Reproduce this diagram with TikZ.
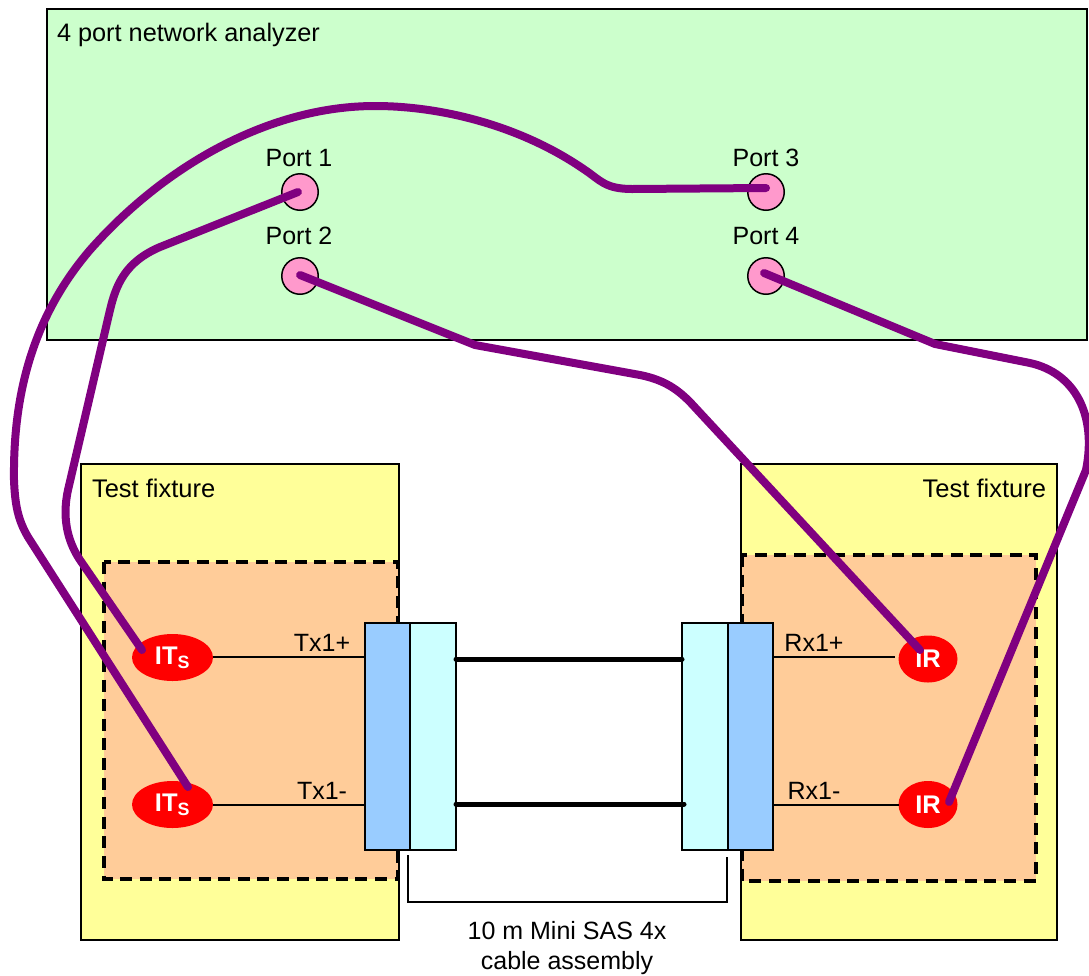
\documentclass[tikz,border=0pt]{standalone}
\usepackage{fontspec}
\setmainfont{Liberation Sans}
\usetikzlibrary{shapes.geometric}
\definecolor{nagreen}{HTML}{CCFFCC}
\definecolor{fixyellow}{HTML}{FFFF99}
\definecolor{dutorange}{HTML}{FFCC99}
\definecolor{connblue}{HTML}{99CCFF}
\definecolor{conncyan}{HTML}{CCFFFF}
\definecolor{portpink}{HTML}{FF99CC}
\definecolor{wirepurple}{HTML}{800080}
\tikzset{
  x=1pt,y=-1pt,
  every node/.style={font=\fontsize{25}{29}\selectfont,inner sep=0pt,outer sep=0pt},
  panel/.style={draw=black,line width=1.5pt,rectangle,anchor=north west},
  dutbox/.style={draw=black,fill=dutorange,line width=3.2pt,dash pattern=on 12pt off 7.6pt},
  portc/.style={circle,draw=black,fill=portpink,line width=1.5pt,minimum size=36.5pt},
  srcnode/.style={ellipse,fill=red,text=white,minimum width=81pt,minimum height=47pt,font=\fontsize{25.5}{29}\selectfont\bfseries},
  rcvnode/.style={ellipse,fill=red,text=white,minimum width=59pt,minimum height=47pt,font=\fontsize{25.5}{29}\selectfont\bfseries},
  wire/.style={draw=wirepurple,line width=8pt,line cap=round,line join=round},
  thinl/.style={draw=black,line width=1.4pt},
  cable/.style={draw=black,line width=5pt,line cap=round},
  conn/.style={draw=black,line width=1.5pt,anchor=north west,minimum height=227pt}
}
\begin{document}
\begin{tikzpicture}
\useasboundingbox (0,0) rectangle (1089,975);
% panels
\node[panel,fill=nagreen,minimum width=1040pt,minimum height=331pt] (na) at (47,9) {};
\node[anchor=west,font=\fontsize{25.3}{29}\selectfont] (natext) at (57,35) {4 port network analyzer};
\node[panel,fill=fixyellow,minimum width=318pt,minimum height=476pt] (fixl) at (81,464) {};
\node[panel,fill=fixyellow,minimum width=316pt,minimum height=476pt] (fixr) at (741,464) {};
\node[anchor=west,font=\fontsize{25.5}{29}\selectfont] (fixltext) at (92,488.5) {Test fixture};
\node[anchor=east,font=\fontsize{25.5}{29}\selectfont] (fixrtext) at (1046,488.5) {Test fixture};
\draw[dutbox] (104,562) rectangle (398,879);
\draw[dutbox] (742,555) rectangle (1036,881);
% ports
\node[portc] (p1) at (300,192) {};
\node[portc] (p2) at (300,276) {};
\node[portc] (p3) at (766,192) {};
\node[portc] (p4) at (766,276) {};
\node (p1t) at (299,158) {Port 1};
\node (p2t) at (299,236) {Port 2};
\node (p3t) at (766,158) {Port 3};
\node (p4t) at (766,236) {Port 4};
% connectors
\node[conn,fill=connblue,minimum width=45pt] (cl1) at (365,623) {};
\node[conn,fill=conncyan,minimum width=46pt] (cl2) at (410,623) {};
\node[conn,fill=conncyan,minimum width=46pt] (cr1) at (682,623) {};
\node[conn,fill=connblue,minimum width=45pt] (cr2) at (728,623) {};
% end points
\node[srcnode] (its1) at (172.5,657.5) {IT\textsubscript{S}};
\node[srcnode] (its2) at (172.5,804.5) {IT\textsubscript{S}};
\node[rcvnode] (ir1) at (928,659) {IR};
\node[rcvnode] (ir2) at (928,804.5) {IR};
\coordinate (cla) at (456,659);
\coordinate (clb) at (456,804);
\coordinate (cra) at (682,659);
\coordinate (crb) at (684,804);
\coordinate (txa) at (365,657);
\coordinate (txb) at (365,805);
\coordinate (rxa) at (773,657);
\coordinate (rxb) at (773,805);
\coordinate (rxaend) at (895,657);
\coordinate (bl) at (408,855);
\coordinate (br) at (727,857);
% thin lines
\draw[thinl] (its1.east |- txa) -- (txa);
\draw[thinl] (its2.east |- txb) -- (txb);
\draw[thinl] (rxa) -- (rxaend);
\draw[thinl] (rxb) -- (ir2.west |- rxb);
\draw[cable] (cla) -- (cra);
\draw[cable] (clb) -- (crb);
\draw[draw=black,line width=1.2pt] (bl) -- (408,902) -- (727,902) -- (br);
% labels
\node (tx1p) at (322,643) {Tx1+};
\node (tx1m) at (322,791) {Tx1-};
\node (rx1p) at (814,643) {Rx1+};
\node (rx1m) at (814,791) {Rx1-};
\node[align=center,font=\fontsize{25}{30.5}\selectfont] (cabletext) at (567,948) {10 m Mini SAS 4x\\cable assembly};
% wires
\coordinate (w1s) at (298,192);
\coordinate (w1e) at (142,650);
\coordinate (w2s) at (766,188);
\coordinate (w2e) at (188,787);
\coordinate (w3s) at (300,275);
\coordinate (w3e) at (920,650);
\coordinate (w4s) at (764,273);
\coordinate (w4e) at (949,802);
\draw[wire] (w1s) -- (160,247) .. controls (125,262) and (116,285) .. (110,310) -- (68,490) .. controls (61,522) and (70,545) .. (80,560) -- (w1e);
\draw[wire] (w2s) -- (632,189) .. controls (605,189) and (600,180) .. (585,170)
  .. controls (520,125) and (440,106) .. (375,106)
  .. controls (270,106) and (165,165) .. (90,250)
  .. controls (30,320) and (13,400) .. (14,480)
  .. controls (15,505) and (18,520) .. (28,537) -- (w2e);
\draw[wire] (w3s) -- (475,345) -- (640,375) .. controls (665,380) and (678,390) .. (690,402) -- (w3e);
\draw[wire] (w4s) -- (935,344) -- (1030,363) .. controls (1075,373) and (1097,415) .. (1086,470) -- (w4e);
\end{tikzpicture}
\end{document}
